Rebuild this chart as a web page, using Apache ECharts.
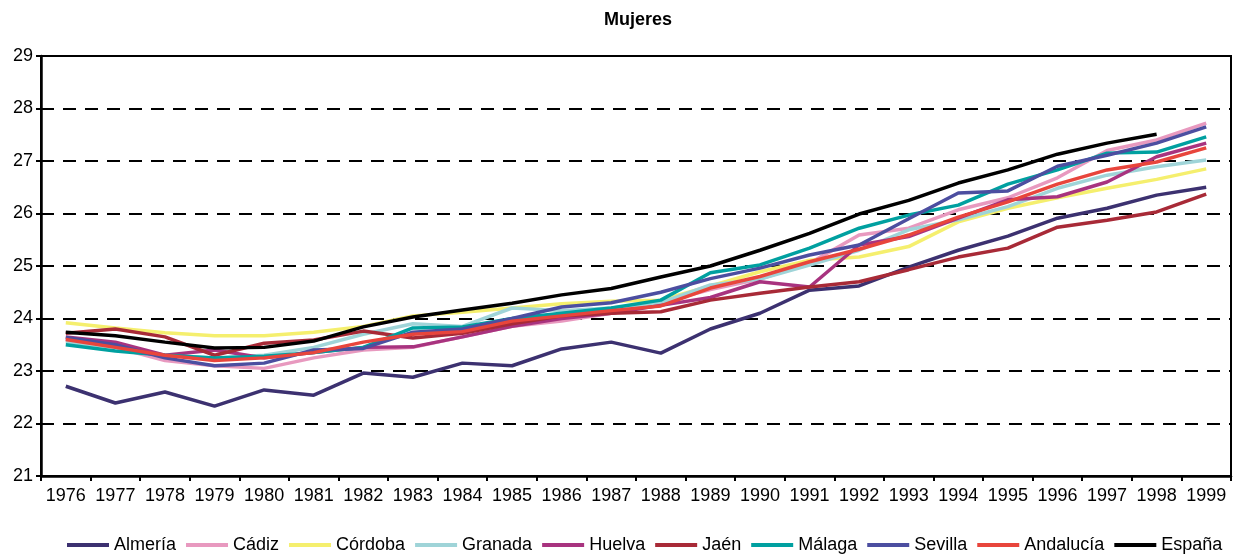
<!DOCTYPE html>
<html>
<head>
<meta charset="utf-8">
<title>Mujeres</title>
<script src="https://cdn.jsdelivr.net/npm/echarts@6/dist/echarts.min.js"></script>
<style>
  html, body { margin: 0; padding: 0; background: #fff; }
  #main { width: 1239px; height: 559px; }
</style>
</head>
<body>
<div id="main"></div>
<script>
// años (eje X)
const years = ["1976", "1977", "1978", "1979", "1980", "1981", "1982", "1983", "1984", "1985", "1986", "1987",
  "1988", "1989", "1990", "1991", "1992", "1993", "1994", "1995", "1996", "1997", "1998", "1999"];

// edad media por provincia
const almeria = [22.71, 22.39, 22.6, 22.33, 22.64, 22.54, 22.96, 22.88, 23.15, 23.1, 23.42, 23.55, 23.34, 23.8, 24.1, 24.54, 24.62, 24.98, 25.3, 25.57, 25.91, 26.1, 26.35, 26.5];
const cadiz = [23.6, 23.45, 23.2, 23.1, 23.05, 23.25, 23.4, 23.45, 23.65, 23.85, 23.95, 24.1, 24.3, 24.55, 24.75, 25.05, 25.59, 25.72, 26.07, 26.3, 26.68, 27.2, 27.4, 27.72];
const cordoba = [23.92, 23.82, 23.73, 23.67, 23.67, 23.74, 23.85, 24.05, 24.12, 24.2, 24.28, 24.33, 24.35, 24.62, 24.89, 25.11, 25.17, 25.37, 25.84, 26.1, 26.3, 26.48, 26.65, 26.85];
const granada = [23.55, 23.45, 23.3, 23.25, 23.3, 23.45, 23.7, 23.9, 23.85, 24.2, 24.15, 24.2, 24.3, 24.64, 24.75, 25.02, 25.3, 25.69, 25.88, 26.13, 26.48, 26.73, 26.89, 27.02];
const huelva = [23.65, 23.55, 23.3, 23.4, 23.25, 23.35, 23.45, 23.46, 23.65, 23.85, 24.0, 24.1, 24.25, 24.4, 24.7, 24.6, 25.4, 25.56, 25.91, 26.26, 26.32, 26.6, 27.08, 27.34];
const jaen = [23.72, 23.8, 23.65, 23.3, 23.53, 23.59, 23.76, 23.63, 23.72, 23.9, 24.05, 24.1, 24.13, 24.35, 24.48, 24.6, 24.7, 24.93, 25.17, 25.34, 25.74, 25.87, 26.03, 26.37];
const malaga = [23.5, 23.38, 23.3, 23.25, 23.28, 23.35, 23.45, 23.82, 23.84, 24.0, 24.1, 24.2, 24.35, 24.87, 25.02, 25.34, 25.72, 25.97, 26.16, 26.56, 26.83, 27.15, 27.17, 27.46];
const sevilla = [23.64, 23.5, 23.25, 23.1, 23.15, 23.4, 23.43, 23.74, 23.8, 24.0, 24.22, 24.3, 24.5, 24.76, 24.96, 25.21, 25.4, 25.9, 26.39, 26.43, 26.9, 27.11, 27.34, 27.65];
const andalucia = [23.6, 23.45, 23.3, 23.2, 23.25, 23.35, 23.55, 23.7, 23.75, 23.95, 24.05, 24.15, 24.24, 24.58, 24.8, 25.08, 25.32, 25.59, 25.93, 26.22, 26.56, 26.83, 26.98, 27.25];
const espana = [23.74, 23.67, 23.55, 23.44, 23.45, 23.57, 23.84, 24.03, 24.16, 24.29, 24.45, 24.57, 24.79, 25.0, 25.3, 25.62, 25.99, 26.25, 26.58, 26.83, 27.13, 27.34, 27.51, null];

const seriesList = [
  { name: "Almería", data: almeria, color: "#3c3170" },
  { name: "Cádiz", data: cadiz, color: "#e899bf" },
  { name: "Córdoba", data: cordoba, color: "#f5ef6e" },
  { name: "Granada", data: granada, color: "#9fd4d8" },
  { name: "Huelva", data: huelva, color: "#a8337f" },
  { name: "Jaén", data: jaen, color: "#a82a37" },
  { name: "Málaga", data: malaga, color: "#00a0a0" },
  { name: "Sevilla", data: sevilla, color: "#4c4ea0" },
  { name: "Andalucía", data: andalucia, color: "#e8453c" },
  { name: "España", data: espana, color: "#000000" },
];

const chart = echarts.init(document.getElementById("main"));
const font = "Liberation Sans, Arial, sans-serif";

const option = {
  animation: false,
  textStyle: { fontFamily: font },
  title: {
    text: "Mujeres",
    left: 633,
    textAlign: "center",
    top: 6,
    textStyle: { fontSize: 18, fontWeight: "bold", color: "#000", fontFamily: font },
  },
  legend: {
    bottom: 0,
    left: 62,
    width: 1177,
    icon: "rect",
    itemWidth: 42,
    itemHeight: 4,
    itemGap: 10,
    textStyle: { fontSize: 18, color: "#000", fontFamily: font },
    data: seriesList.map((s) => s.name),
  },
  grid: {
    left: 41,
    right: 8,
    top: 56,
    bottom: 83,
    show: true,
    borderColor: "#000",
    borderWidth: 2,
  },
  xAxis: {
    type: "category",
    data: years,
    boundaryGap: true,
    axisLine: { lineStyle: { color: "#000", width: 2.5 } },
    axisTick: { show: true, length: 5, lineStyle: { color: "#000", width: 2 } },
    axisLabel: { color: "#000", fontSize: 18, margin: 11, interval: 0, fontFamily: font },
  },
  yAxis: {
    type: "value",
    min: 21,
    max: 29,
    interval: 1,
    axisLine: { show: true, lineStyle: { color: "#000", width: 2.5 } },
    axisTick: { show: true, length: 5, lineStyle: { color: "#000", width: 2 } },
    axisLabel: { color: "#000", fontSize: 18, margin: 8, fontFamily: font },
    splitLine: { lineStyle: { color: "#000", width: 2, type: [13, 9] } },
  },
  series: seriesList.map((s) => ({
    name: s.name,
    type: "line",
    data: s.data,
    symbol: "none",
    color: s.color,
    lineStyle: { width: 3.5, color: s.color },
  })),
};

chart.setOption(option);
</script>
</body>
</html>
